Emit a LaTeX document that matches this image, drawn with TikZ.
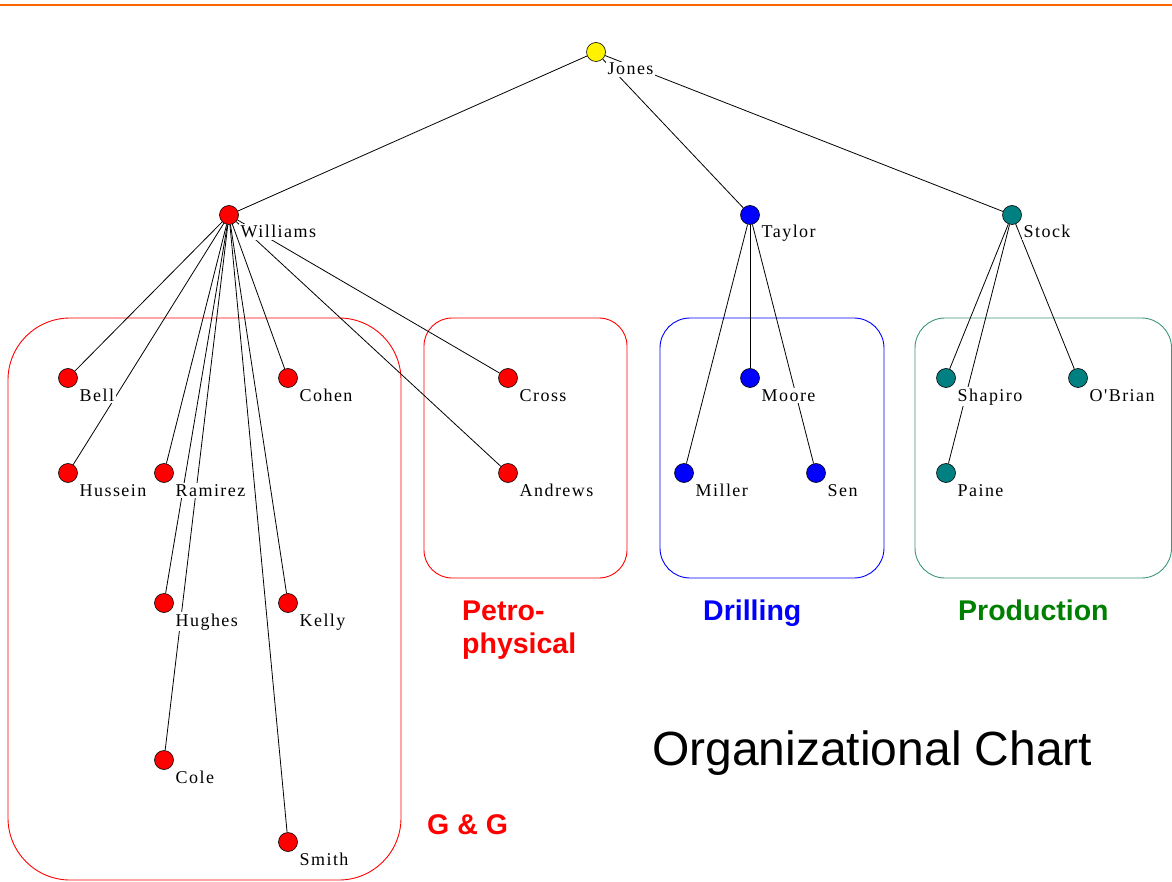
\documentclass[tikz,border=0pt]{standalone}
\usepackage{fontspec}
\usetikzlibrary{backgrounds}
\newfontfamily\namefont[LetterSpace=8]{Liberation Serif}
\newfontfamily\grpfont{Liberation Sans}
\definecolor{rulecol}{HTML}{FF6600}
\definecolor{tealdot}{HTML}{008080}
\definecolor{prodbox}{RGB}{60,150,120}
\definecolor{prodtext}{HTML}{008000}

\tikzset{
  person/.style={circle, draw=black, line width=0.6pt, minimum size=19pt, inner sep=0pt},
  who/.style={font={\namefont\fontsize{18}{20}\selectfont}, fill=white, inner sep=1.5pt, anchor=base west},
  link/.style={line width=0.8pt},
  grp/.style={line width=0.9pt},
  grplabel/.style={font={\grpfont\bfseries\fontsize{28.5}{34}\selectfont}, anchor=base west, inner sep=0pt},
}
% a person: id, position, fill colour, name
\newcommand\pers[4]{%
  \node[person, fill=#3] (#1) at #2 {};
  \node[who] (#1-t) at ([shift={(10,23)}]#1.center) {#4};
}

\begin{document}
\begin{tikzpicture}[x=1pt, y=-1pt]
\useasboundingbox (0,0) rectangle (1172,882);

% rule across the top
\draw[rulecol, line width=2pt] (0,5.5) -- (1172,5.5);

% people
\pers{jones}{(596,52)}{yellow}{Jones}
\pers{williams}{(229,215)}{red}{Williams}
\pers{taylor}{(750,215)}{blue}{Taylor}
\pers{stock}{(1012,215)}{tealdot}{Stock}

\pers{bell}{(68,378)}{red}{Bell}
\pers{cohen}{(288,378)}{red}{Cohen}
\pers{hussein}{(68,473)}{red}{Hussein}
\pers{ramirez}{(164,473)}{red}{Ramirez}
\pers{hughes}{(164,603)}{red}{Hughes}
\pers{kelly}{(288,603)}{red}{Kelly}
\pers{cole}{(164,760)}{red}{Cole}
\pers{smith}{(288,842)}{red}{Smith}

\pers{cross}{(508,378)}{red}{Cross}
\pers{andrews}{(508,473)}{red}{Andrews}

\pers{moore}{(750,378)}{blue}{Moore}
\pers{miller}{(684,473)}{blue}{Miller}
\pers{sen}{(816,473)}{blue}{Sen}

\pers{shapiro}{(946,378)}{tealdot}{Shapiro}
\pers{obrian}{(1078,378)}{tealdot}{O'Brian}
\pers{paine}{(946,473)}{tealdot}{Paine}

% group labels and title
\node[grplabel, text=red] (gg) at (427,834) {G \& G};
\node[grplabel, text=red] (petro1) at (462,620) {Petro-};
\node[grplabel, text=red] (petro2) at (462,653) {physical};
\node[grplabel, text=blue] (drill) at (703,620) {Drilling};
\node[grplabel, text=prodtext] (prod) at (958,620) {Production};
\node[font={\grpfont\fontsize{48}{56}\selectfont}, anchor=base west, inner sep=0pt] (title) at (652,765) {Organizational Chart};

\begin{pgfonlayer}{background}
  % department boxes
  \draw[grp, draw=red, rounded corners=62] (8,318) rectangle (401,880);
  \draw[grp, draw=red, rounded corners=28] (424,318) rectangle (627,578);
  \draw[grp, draw=blue, rounded corners=30] (660,318) rectangle (884,578);
  \draw[grp, draw=prodbox, rounded corners=30] (915,318) rectangle (1171.5,578);

  % reporting lines
  \draw[link] (jones) -- (williams);
  \draw[link] (jones) -- (taylor);
  \draw[link] (jones) -- (stock);

  \foreach \p in {bell,hussein,ramirez,hughes,cole,smith,kelly,cohen,cross,andrews}
    \draw[link] (williams) -- (\p);
  \foreach \p in {miller,moore,sen}
    \draw[link] (taylor) -- (\p);
  \foreach \p in {shapiro,paine,obrian}
    \draw[link] (stock) -- (\p);
\end{pgfonlayer}
\end{tikzpicture}
\end{document}
